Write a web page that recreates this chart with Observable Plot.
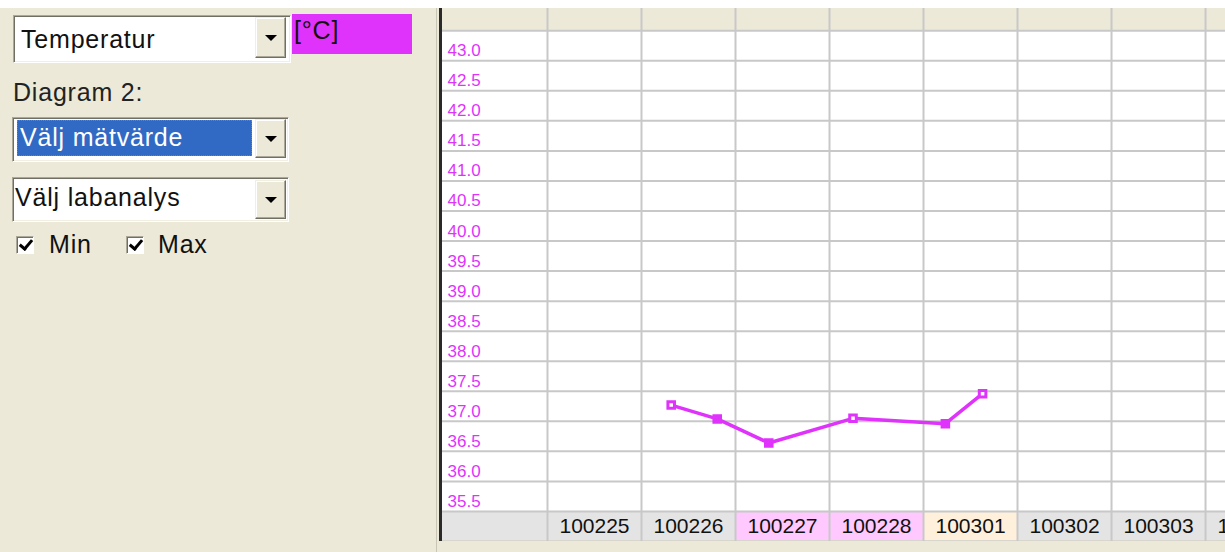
<!DOCTYPE html>
<html><head><meta charset="utf-8">
<script src="https://cdn.jsdelivr.net/npm/d3@7"></script>
<script src="https://cdn.jsdelivr.net/npm/@observablehq/plot@0.6"></script>
<style>
html,body{margin:0;padding:0}
body{width:1225px;height:552px;overflow:hidden;background:#ece9d8;position:relative;font-family:"Liberation Sans",Arial,sans-serif}
.topstrip{position:absolute;left:0;top:0;width:1225px;height:8px;background:#fff}
.sep{position:absolute;left:436px;top:8px;width:1px;height:544px;background:#c9c6b6}
.t{position:absolute;font-size:25px;line-height:25px;letter-spacing:0.8px;white-space:nowrap;color:#111}
.sel{position:absolute;box-sizing:border-box;background:#fff;border:1px solid;border-color:#aca899 #fff #fff #aca899;box-shadow:inset 1px 1px 0 #716f64, inset -1px -1px 0 #f1efe2}
.btn{position:absolute;box-sizing:border-box;background:#ece9d8;border:1px solid;border-color:#f1efe2 #716f64 #716f64 #f1efe2;box-shadow:inset -1px -1px 0 #aca899, inset 1px 1px 0 #fff}
.arrow{position:absolute;left:50%;top:50%;margin-left:-6px;margin-top:-3px;width:0;height:0;border-left:6px solid transparent;border-right:6px solid transparent;border-top:6px solid #000}
.cb{position:absolute;width:18px;height:18px;box-sizing:border-box;background:#fff;border:1px solid;border-color:#aca899 #fff #fff #aca899;box-shadow:inset 1px 1px 0 #716f64}
.cb::after{content:"";position:absolute;left:5px;top:0px;width:5px;height:10px;border:solid #000;border-width:0 3px 3px 0;transform:rotate(40deg)}
.unit{position:absolute;left:292px;top:14px;width:120px;height:40px;background:#df33fb}
.hl{position:absolute;left:17px;top:120px;width:235px;height:36px;box-sizing:border-box;background:#316ac5;border:1px dotted #b07a10}
#chart{position:absolute;left:438px;top:8px}
</style></head><body>
<div class="topstrip"></div>
<div class="sep"></div>

<div class="sel" style="left:13px;top:15px;width:278px;height:48px"></div>
<div class="btn" style="left:255px;top:17px;width:31px;height:41px"><div class="arrow"></div></div>
<div class="t" style="left:21px;top:27px">Temperatur</div>
<div class="unit"></div>
<div class="t" style="left:294px;top:18px">[°C]</div>

<div class="t" style="left:13px;top:80px;color:#222">Diagram 2:</div>

<div class="sel" style="left:12px;top:117px;width:277px;height:45px"></div>
<div class="hl"></div>
<div class="btn" style="left:255px;top:119px;width:31px;height:39px"><div class="arrow"></div></div>
<div class="t" style="left:20px;top:125px;color:#fff">Välj mätvärde</div>

<div class="sel" style="left:12px;top:177px;width:277px;height:45px"></div>
<div class="btn" style="left:255px;top:180px;width:31px;height:39px"><div class="arrow"></div></div>
<div class="t" style="left:15px;top:185px">Välj labanalys</div>

<div class="cb" style="left:16px;top:236px"></div>
<div class="t" style="left:49px;top:232px">Min</div>
<div class="cb" style="left:126px;top:236px"></div>
<div class="t" style="left:158px;top:232px">Max</div>

<div id="chart"></div>
<script>
// ---- data ----
const dayLabels = ["100225","100226","100227","100228","100301","100302","100303","100304"];
const dayKinds  = ["weekday","weekday","weekend","weekend","today","weekday","weekday","weekday"];
const tickValues = [43.0,42.5,42.0,41.5,41.0,40.5,40.0,39.5,39.0,38.5,38.0,37.5,37.0,36.5,36.0,35.5];
const readingTimes = ["2010-02-26T07:35","2010-02-26T19:20","2010-02-27T08:30","2010-02-28T06:00","2010-03-01T05:35","2010-03-01T15:05"];
const readingTemps = [37.27, 37.04, 36.64, 37.05, 36.96, 37.46];
const readingMarks = ["hollow","filled","filled","hollow","filled","hollow"];

// ---- scale extents (label column on the left, header row on top) ----
const xDomain = [new Date(2010,1,23,20,41), new Date(2010,2,4,5,6)];
const yDomain = [35.0, 43.87];

// ---- styles ----
const magenta = "#df33fb";
const grid = "#c8c8c8";
const kindFill = {weekday:"#e4e4e4", weekend:"#ffc8ff", today:"#fff0dc"};

// ---- derived tables ----
const parseDay = s => new Date(2000 + +s.slice(0,2), +s.slice(2,4) - 1, +s.slice(4,6));
const days = dayLabels.map((s,i) => {
  const start = parseDay(s);
  return {label:s, kind:dayKinds[i], start, end:d3.timeDay.offset(start,1), mid:d3.timeHour.offset(start,12)};
});
const readings = readingTimes.map((t,i) => ({time:new Date(t), temp:readingTemps[i], mark:readingMarks[i]}));
const step = 0.5;
const rowTop = d3.max(tickValues) + step;      // header boundary
const rowBottom = d3.min(tickValues);          // footer top
const footBottom = rowBottom - step;           // footer bottom
const rowEdges = [rowTop, ...tickValues];

const chart = Plot.plot({
  width: 787, height: 533,
  marginLeft: 2, marginRight: 0, marginTop: 0, marginBottom: 0,
  x: {type:"time", domain:xDomain, axis:null},
  y: {domain:yDomain, axis:null},
  color: {type:"identity"},
  style: {background:"transparent", fontFamily:"'Liberation Sans', Arial, sans-serif", overflow:"hidden"},
  marks: [
    Plot.rect([0], {x1:()=>xDomain[0], x2:()=>xDomain[1], y1:()=>rowBottom, y2:()=>rowTop, fill:"white"}),
    Plot.rect([0], {x1:()=>xDomain[0], x2:()=>days[0].start, y1:()=>footBottom, y2:()=>rowBottom, fill:kindFill.weekday}),
    Plot.rect(days, {x1:"start", x2:"end", y1:()=>footBottom, y2:()=>rowBottom, fill:d=>kindFill[d.kind]}),
    Plot.ruleY(rowEdges, {stroke:grid, strokeWidth:2}),
    Plot.ruleY([footBottom], {stroke:"#d8d6cc", strokeWidth:3}),
    Plot.ruleX(days.map(d=>d.start), {stroke:grid, strokeWidth:2}),
    Plot.ruleX([xDomain[0]], {stroke:"#2a2a2a", strokeWidth:3}),
    Plot.text(tickValues, {x:()=>xDomain[0], y:d=>d, text:d=>d.toFixed(1), dx:7, dy:-10,
      textAnchor:"start", fill:magenta, fontSize:17}),
    Plot.text(days, {x:"mid", y:()=>(footBottom+rowBottom)/2, text:"label", fill:"#111", fontSize:21}),
    Plot.line(readings, {x:"time", y:"temp", stroke:magenta, strokeWidth:3.5}),
    Plot.dot(readings.filter(d=>d.mark==="filled"), {x:"time", y:"temp", symbol:"square", r:3.7, fill:magenta, stroke:magenta, strokeWidth:3}),
    Plot.dot(readings.filter(d=>d.mark==="hollow"), {x:"time", y:"temp", symbol:"square", r:3.7, fill:"white", stroke:magenta, strokeWidth:3})
  ]
});
document.getElementById("chart").appendChild(chart);
</script>
</body></html>
